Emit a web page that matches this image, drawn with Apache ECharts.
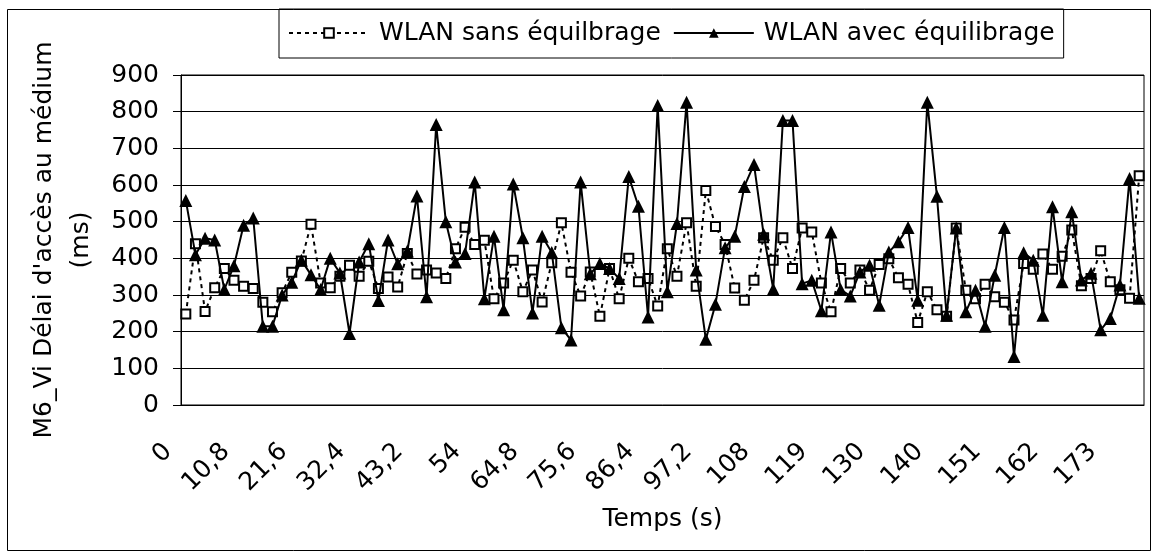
<!DOCTYPE html>
<html>
<head>
<meta charset="utf-8">
<script src="https://cdn.jsdelivr.net/npm/echarts@6/dist/echarts.min.js"></script>
<style>
html,body{margin:0;padding:0;background:#fff;}
#c{width:1157px;height:558px;}
</style>
</head>
<body>
<div id="c"></div>
<script>
const categories = ["0","1,8","3,6","5,4","7,2","9","10,8","12,6","14,4","16,2","18","19,8","21,6","23,4","25,2","27","28,8","30,6","32,4","34,2","36","37,8","39,6","41,4","43,2","45","46,8","48,6","50,4","52,2","54","55,8","57,6","59,4","61,2","63","64,8","66,6","68,4","70,2","72","73,8","75,6","77,4","79,2","81","82,8","84,6","86,4","88,2","90","91,8","93,6","95,4","97,2","99","101","103","104","106","108","110","112","113","115","117","119","121","122","124","126","128","130","131","133","135","137","139","140","142","144","146","148","149","151","153","155","157","158","160","162","164","166","167","169","171","173","175","176","178"];
const sansEquilibrage = [248,440,255,320,372,340,324,318,280,254,306,362,393,493,333,320,351,381,351,392,318,349,322,413,357,368,360,345,426,485,438,449,290,333,395,309,368,281,388,497,362,297,363,242,372,290,400,336,345,270,426,351,497,324,585,487,438,319,286,340,456,395,456,372,483,472,333,254,372,333,368,313,383,399,347,329,225,309,260,242,483,313,290,329,295,280,232,386,370,412,370,406,477,325,345,421,336,314,291,625];
const avecEquilibrage = [558,410,455,450,315,380,490,510,215,215,300,335,395,355,315,400,360,195,390,440,285,450,385,420,570,295,765,500,390,413,608,290,460,260,603,456,251,460,416,211,177,608,358,386,372,345,623,542,240,817,309,495,826,368,179,275,429,460,596,656,466,316,776,776,331,340,257,472,315,297,363,381,272,417,445,484,286,826,569,245,483,254,313,215,354,484,132,415,395,245,541,336,527,341,359,205,236,327,618,291];
const yTicks = [0,100,200,300,400,500,600,700,800,900];

const FONT = '"DejaVu Sans", sans-serif';
const FS = 25;
const chart = echarts.init(document.getElementById('c'), null, {renderer:'canvas'});
chart.setOption({
  animation:false,
  backgroundColor:'#fff',
  textStyle:{fontFamily:FONT,color:'#000'},
  graphic:[{type:'rect',shape:{x:7.5,y:9.5,width:1143,height:541},style:{fill:'none',stroke:'#000',lineWidth:1},z:-1}],
  legend:{
    left:279, top:9,
    padding:[10,9,11,9],
    borderColor:'#000', borderWidth:1,
    itemWidth:80, itemHeight:12, itemGap:12,
    textStyle:{fontFamily:FONT,fontSize:FS,color:'#000',lineHeight:28,padding:[0,0,0,5]},
    data:['WLAN sans équilbrage','WLAN avec équilibrage']
  },
  grid:{left:181,right:13,top:75,bottom:153,show:true,borderColor:'#000',borderWidth:1},
  xAxis:{
    type:'category', data:categories, boundaryGap:true,
    axisLine:{lineStyle:{color:'#000',width:1}},
    axisTick:{interval:6,length:8,lineStyle:{color:'#000'}},
    axisLabel:{interval:5,rotate:45,fontFamily:FONT,fontSize:FS,color:'#000',margin:25,padding:[0,25,0,0]},
    name:'Temps (s)', nameLocation:'middle', nameGap:102,
    nameTextStyle:{fontFamily:FONT,fontSize:FS,color:'#000'}
  },
  yAxis:{
    type:'value', min:yTicks[0], max:yTicks[yTicks.length-1], interval:100,
    axisLine:{show:true,lineStyle:{color:'#000',width:1}},
    axisTick:{show:true,length:8,lineStyle:{color:'#000'}},
    splitLine:{lineStyle:{color:'#000',width:1}},
    axisLabel:{fontFamily:FONT,fontSize:FS,color:'#000',margin:22},
    name:"M6_Vi Délai d'accès au médium\n(ms)", nameLocation:'middle', nameRotate:90, nameGap:77,
    nameTextStyle:{fontFamily:FONT,fontSize:FS,color:'#000',lineHeight:37,align:'center'}
  },
  series:[
    {name:'WLAN sans équilbrage',type:'line',data:sansEquilibrage,
     showAllSymbol:true, symbol:'rect',symbolSize:9,
     itemStyle:{color:'#fff',borderColor:'#000',borderWidth:2},
     lineStyle:{color:'#000',width:2,type:[4,4]},z:2},
    {name:'WLAN avec équilibrage',type:'line',data:avecEquilibrage,
     showAllSymbol:true, symbol:'triangle',symbolSize:13,
     itemStyle:{color:'#000',borderColor:'#000',borderWidth:0},
     lineStyle:{color:'#000',width:2,type:'solid'},z:3}
  ]
});
</script>
</body>
</html>
